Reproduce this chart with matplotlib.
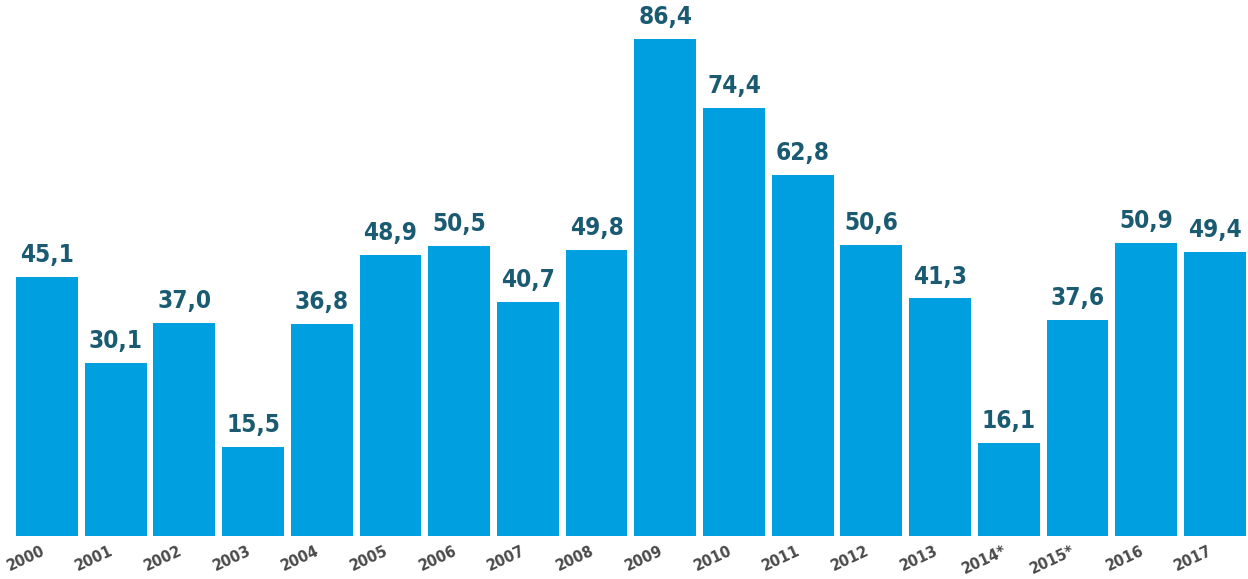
import matplotlib.pyplot as plt

years = ['2000', '2001', '2002', '2003', '2004', '2005', '2006', '2007', '2008',
         '2009', '2010', '2011', '2012', '2013', '2014*', '2015*', '2016', '2017']
values = [45.1, 30.1, 37.0, 15.5, 36.8, 48.9, 50.5, 40.7, 49.8,
          86.4, 74.4, 62.8, 50.6, 41.3, 16.1, 37.6, 50.9, 49.4]

bar_color = '#009fdf'
label_color = '#1b5b72'
tick_color = '#4a4a4a'
font = ['DejaVu Sans']

fig = plt.figure(figsize=(12.48, 5.79), dpi=100)
ax = fig.add_axes([12.6 / 1248, 43 / 579, 1236.6 / 1248, 536 / 579])

x = range(len(values))
ax.bar(x, values, width=0.9, color=bar_color)

# value labels above the bars, decimal comma
for i, v in zip(x, values):
    ax.text(i, v + 2.6, ('%.1f' % v).replace('.', ','), ha='center', va='baseline',
            fontsize=17.5, fontweight='bold', fontstretch='condensed',
            color=label_color, family=font)

ax.set_xlim(-0.5, len(values) - 0.5)
ax.set_ylim(0, 93.2)
ax.set_xticks(list(x))
ax.set_xticklabels(years, rotation=25, ha='right', fontsize=11.5, fontweight='bold',
                   fontstretch='condensed', color=tick_color, family=font)
ax.tick_params(axis='x', length=0, pad=5)
ax.set_yticks([])
for s in ax.spines.values():
    s.set_visible(False)

fig.savefig('out.png', dpi=100)
